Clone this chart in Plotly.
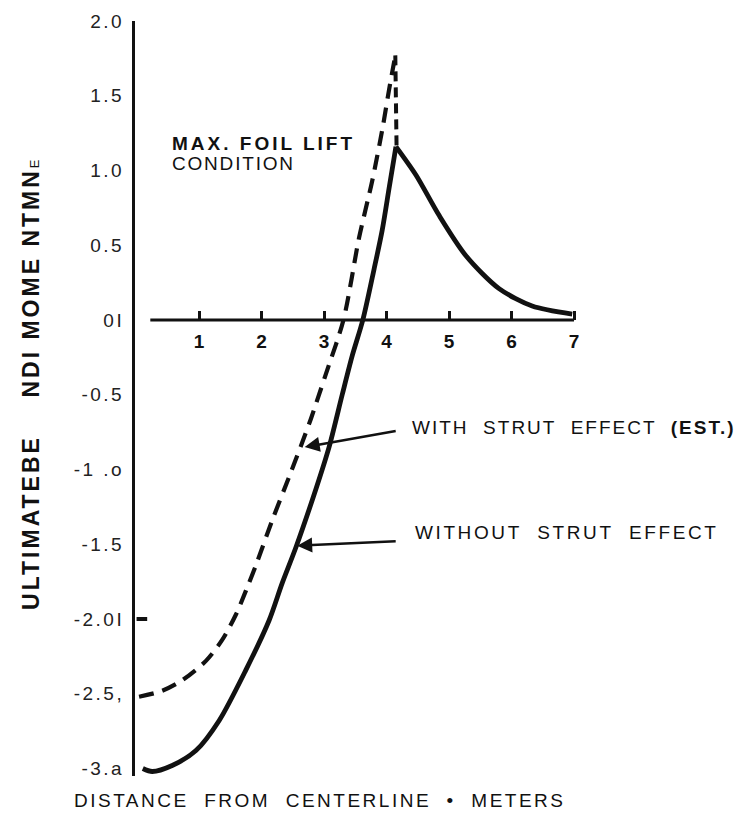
import plotly.graph_objects as go

# ---- data ----
# solid curve: without strut effect (rising branch up to the peak, then decaying branch)
dist_without_rise = [0.10, 0.25, 0.57, 0.95, 1.32, 1.75, 2.12, 2.33, 2.55, 2.87, 3.08, 3.29,
                     3.45, 3.62, 3.80, 3.93, 4.04, 4.15]
moment_without_rise = [-3.00, -3.02, -2.98, -2.88, -2.68, -2.34, -2.01, -1.76, -1.52, -1.13, -0.85, -0.50,
                       -0.24, 0.00, 0.34, 0.60, 0.88, 1.16]
dist_without_fall = [4.15, 4.47, 4.84, 5.27, 5.80, 6.33, 6.97]
moment_without_fall = [1.16, 0.97, 0.70, 0.43, 0.21, 0.094, 0.04]

# dashed curve: with strut effect (estimated)
dist_with_rise = [0.04, 0.41, 0.73, 1.11, 1.37, 1.59, 1.75, 1.91, 2.17, 2.44, 2.65, 2.79,
                  3.03, 3.31, 3.56, 3.77, 3.93, 4.04, 4.14]
moment_with_rise = [-2.52, -2.48, -2.41, -2.28, -2.14, -1.97, -1.81, -1.64, -1.34, -1.05, -0.82, -0.66,
                    -0.36, 0.00, 0.55, 0.93, 1.27, 1.54, 1.77]
dist_with_drop = [4.14, 4.16]
moment_with_drop = [1.77, 1.16]

x_tick_vals = [1, 2, 3, 4, 5, 6, 7]
x_tick_text = ["1", "2", "3", "4", "5", "6", "7"]
y_tick_vals = [2.0, 1.5, 1.0, 0.5, 0.0, -0.5, -1.0, -1.5, -2.0, -2.5, -3.0]
y_tick_text = ["2.0", "1.5", "1.0", "0.5", "0I", "-0.5", "-1 .o", "-1.5", "-2.0I", "-2.5,", "-3.a"]

x_axis_extent = [0.22, 7.0]
y_range = [-3.05, 2.0]
x_range = [-0.025, 9.575]

FONT = "Liberation Sans, Arial, sans-serif"
INK = "#111111"


def spaced(txt, ls):
    return "<span style='letter-spacing:%spx'>%s</span>" % (ls, txt)


fig = go.Figure()
dash_line = dict(color=INK, width=4.2, dash="15px,9px")
solid_line = dict(color=INK, width=4.8)
fig.add_trace(go.Scatter(x=dist_with_rise, y=moment_with_rise, mode="lines",
                         line=dict(shape="spline", smoothing=0.8, **dash_line), showlegend=False))
fig.add_trace(go.Scatter(x=dist_with_drop, y=moment_with_drop, mode="lines",
                         line=dict(color=INK, width=4, dash="10px,6px"), showlegend=False))
fig.add_trace(go.Scatter(x=dist_without_rise, y=moment_without_rise, mode="lines",
                         line=dict(shape="spline", smoothing=0.8, **solid_line), showlegend=False))
fig.add_trace(go.Scatter(x=dist_without_fall, y=moment_without_fall, mode="lines",
                         line=dict(shape="spline", smoothing=0.8, **solid_line), showlegend=False))

# horizontal axis line at zero
fig.add_shape(type="line", xref="x", yref="y", x0=x_axis_extent[0], x1=x_axis_extent[1],
              y0=0, y1=0, line=dict(color=INK, width=3))
# tick mark on vertical axis at -2.0
fig.add_shape(type="line", xref="x", yref="y", x0=0, x1=0.17, y0=-2.0, y1=-2.0,
              line=dict(color=INK, width=4))

pos0 = (0 - y_range[0]) / (y_range[1] - y_range[0])

fig.update_layout(
    width=744, height=816,
    margin=dict(l=135, r=9, t=21, b=40),
    paper_bgcolor="white", plot_bgcolor="white",
    font=dict(family=FONT, color=INK),
    xaxis=dict(range=x_range, showgrid=False, zeroline=False, showline=False,
               anchor="free", position=pos0,
               tickmode="array", tickvals=x_tick_vals,
               ticktext=["<b>%s</b>" % t for t in x_tick_text],
               ticks="inside", ticklen=9, tickwidth=2.5, tickcolor=INK,
               tickfont=dict(family=FONT, size=19, color=INK),
               ticklabelstandoff=8),
    yaxis=dict(range=y_range, showgrid=False, zeroline=False,
               showline=True, linecolor=INK, linewidth=3,
               tickmode="array", tickvals=y_tick_vals,
               ticktext=[spaced(t, 2.5) for t in y_tick_text],
               ticks="", tickfont=dict(family=FONT, size=19, color="#222222"),
               ticklabelstandoff=4),
)

# arrows
fig.add_annotation(x=2.69, y=-0.85, ax=4.17, ay=-0.74, xref="x", yref="y", axref="x", ayref="y",
                   text="", showarrow=True, arrowhead=2, arrowsize=1.2, arrowwidth=2.5, arrowcolor=INK)
fig.add_annotation(x=2.57, y=-1.51, ax=4.17, ay=-1.48, xref="x", yref="y", axref="x", ayref="y",
                   text="", showarrow=True, arrowhead=2, arrowsize=1.2, arrowwidth=2.5, arrowcolor=INK)

# labels
fig.add_annotation(x=4.37, y=-0.72, xref="x", yref="y", xanchor="left", yanchor="middle",
                   text=spaced("WITH  STRUT  EFFECT  <b>(EST.)</b>", 2), showarrow=False,
                   font=dict(family=FONT, size=19, color=INK))
fig.add_annotation(x=4.42, y=-1.42, xref="x", yref="y", xanchor="left", yanchor="middle",
                   text=spaced("WITHOUT  STRUT  EFFECT", 2.6), showarrow=False,
                   font=dict(family=FONT, size=19, color=INK))
fig.add_annotation(x=0.53, y=1.18, xref="x", yref="y", xanchor="left", yanchor="middle",
                   text=spaced("<b>MAX. FOIL LIFT</b>", 3), showarrow=False,
                   font=dict(family=FONT, size=19, color=INK))
fig.add_annotation(x=0.53, y=1.045, xref="x", yref="y", xanchor="left", yanchor="middle",
                   text=spaced("CONDITION", 1.8), showarrow=False,
                   font=dict(family=FONT, size=19, color=INK))

# axis titles
fig.add_annotation(x=(72 - 135) / 600, y=-0.032, xref="paper", yref="paper",
                   xanchor="left", yanchor="middle",
                   text=spaced("DISTANCE  FROM  CENTERLINE  •  METERS", 2.5), showarrow=False,
                   font=dict(family=FONT, size=19, color=INK))
fig.add_annotation(x=(31 - 135) / 600, y=0.518, xref="paper", yref="paper",
                   xanchor="center", yanchor="middle", textangle=-90,
                   text=spaced("<b>ULTIMATEBE    NDI MOME NTMN</b>", 3)
                   + "<span style='font-size:13px'>E</span>",
                   showarrow=False,
                   font=dict(family=FONT, size=23, color=INK))

fig.write_html("out.html")
